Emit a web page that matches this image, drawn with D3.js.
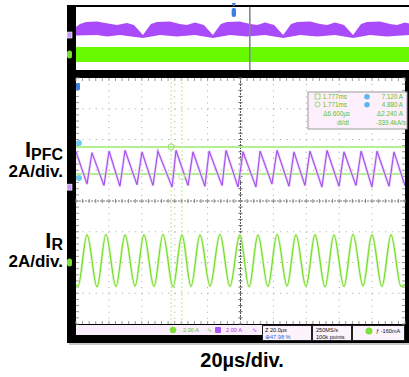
<!DOCTYPE html>
<html>
<head>
<meta charset="utf-8">
<script src="https://cdn.jsdelivr.net/npm/d3@7"></script>
<style>
    html, body { margin: 0; padding: 0; background: #fff; }
    svg { display: block; font-family: "Liberation Sans", Arial, sans-serif; }
</style>
</head>
<body>
<svg id="scope" width="409" height="377"></svg>
<script>
// IPFC trace: triangle vertices (time in µs, current in A)
const ipfcPeakTimes = [0, 9.7, 20.1, 29.8, 40.1, 49.8, 60.8, 71.1, 80.9, 91.2, 101.5, 111.9, 122.2, 132.5, 142.2, 152.6, 162.9, 173.3, 183.0, 193.3];
const ipfcPeakAmps = [2.30, 2.25, 2.35, 2.40, 2.30, 2.35, 2.40, 2.30, 2.35, 2.40, 2.30, 2.35, 2.40, 2.30, 2.35, 2.40, 2.30, 2.35, 2.35, 2.30];
const ipfcValleyTimes = [6.7, 17.0, 26.7, 37.1, 46.8, 58.4, 68.1, 78.4, 88.8, 98.5, 109.4, 119.1, 129.5, 139.2, 149.5, 159.9, 170.2, 179.9, 190.3, 200];
const ipfcValleyAmps = [0.20, 0.10, 0.05, 0.15, 0.10, 0.00, 0.10, 0.05, 0.10, 0.00, 0.00, 0.20, 0.05, 0.10, 0.00, 0.05, 0.10, 0.00, 0.05, 0.10];

// IR trace: peaks and valleys of the resonant current
const irPeakTimes = [6.7, 18.2, 29.8, 41.3, 52.9, 64.4, 75.4, 87.5, 99.6, 110.6, 122.2, 133.7, 145.3, 156.8, 168.4, 179.9, 191.5];
const irPeakAmps = [1.80, 1.82, 1.78, 1.80, 1.82, 1.80, 1.78, 1.82, 1.80, 1.78, 1.82, 1.80, 1.80, 1.78, 1.82, 1.80, 1.80];
const irValleyTimes = [0, 1.2, 12.8, 24.3, 35.9, 47.4, 59.0, 69.9, 81.5, 93.6, 105.2, 116.7, 128.3, 139.8, 151.4, 162.9, 174.5, 186.0, 197.6, 200];
const irValleyAmps = [-1.45, -1.55, -1.58, -1.55, -1.52, -1.55, -1.58, -1.55, -1.52, -1.55, -1.58, -1.55, -1.52, -1.55, -1.58, -1.55, -1.52, -1.55, -1.55, -1.45];

// overview (top) window, x and y in divisions
const ovUpperX = [0, 0.12, 0.30, 0.63, 0.96, 1.23, 1.53, 1.74, 2.01, 2.25, 2.43, 2.82, 3.12, 3.33, 3.57, 3.84, 4.11, 4.35, 4.53, 4.92, 5.23, 5.44, 5.68, 5.95, 6.22, 6.46, 6.64, 7.03, 7.33, 7.54, 7.78, 8.05, 8.32, 8.56, 8.74, 9.13, 9.43, 9.64, 9.88, 10];
const ovUpperY = [1.46, 1.84, 2.10, 2.16, 1.90, 1.71, 1.97, 1.71, 0.44, 1.84, 2.10, 2.16, 1.84, 1.71, 2.03, 1.71, 0.44, 1.84, 2.10, 2.16, 1.84, 1.71, 2.03, 1.71, 0.44, 1.84, 2.10, 2.16, 1.84, 1.71, 2.03, 1.71, 0.44, 1.84, 2.10, 2.16, 1.84, 1.71, 2.03, 1.90];
const ovLowerX = [0, 0.63, 0.93, 1.32, 2.01, 2.52, 3.03, 3.57, 4.11, 4.62, 5.14, 5.68, 6.22, 6.73, 7.24, 7.78, 8.32, 8.83, 9.34, 10];
const ovLowerY = [0.38, 0.44, 0.25, 0.44, 0.06, 0.44, 0.25, 0.44, 0.06, 0.44, 0.25, 0.44, 0.06, 0.44, 0.25, 0.44, 0.06, 0.44, 0.25, 0.44];
const ovGreenBand = [-1.08, -2.98];
const ovZoomPos = 5.22;
const ovTriggerPos = 4.74;

// channel settings
const ampsPerDiv = 2;
const ipfcOffset = 0.45;
const irOffset = -2;

// cursors
const cursorTimes = [57.8, 64.4];
const cursorLevels = [1.76, 0.88];
const readoutRows = [
    ["1.777ms", "a", "7.120 A"],
    ["1.771ms", "b", "4.880 A"],
    ["\u03946.600\u00b5s", "", "\u03942.240 A"],
    ["di/dt", "", "-339.4kA/s"]
];

const timeTicks = d3.range(0, 201, 20);
const divTicks = d3.range(-4, 5, 1);

const svg = d3.select("#scope");
const plot = { left: 76, right: 405, top: 78, bottom: 324 };
const ov = { left: 76, right: 409, top: 7, bottom: 70 };

const x = d3.scaleLinear().domain([0, 200]).range([plot.left, plot.right]);
const y = d3.scaleLinear().domain([-4, 4]).range([plot.bottom, plot.top]);
const xo = d3.scaleLinear().domain([0, 10]).range([ov.left, ov.right]);
const yo = d3.scaleLinear().domain([-4, 4]).range([ov.bottom, ov.top]);

const purple = "#a650ee";
const green = "#72dc24";

// frame
svg.append("rect").attr("x", 69).attr("y", 343).attr("width", 340).attr("height", 2).attr("fill", "#c8c8c8");
svg.append("rect").attr("x", 67).attr("y", 5).attr("width", 342).attr("height", 338).attr("fill", "#000");
svg.append("rect").attr("x", ov.left).attr("y", ov.top).attr("width", ov.right - ov.left).attr("height", ov.bottom - ov.top).attr("fill", "#fff");
svg.append("rect").attr("x", plot.left).attr("y", plot.top).attr("width", plot.right - plot.left).attr("height", plot.bottom - plot.top).attr("fill", "#fff");

// overview window
const ovPoly = ovUpperX.map((v, i) => [xo(v), yo(ovUpperY[i])])
    .concat(ovLowerX.map((v, i) => [xo(v), yo(ovLowerY[i])]).reverse());
svg.append("path")
    .attr("d", d3.line().curve(d3.curveLinearClosed)(ovPoly))
    .attr("fill", "#a94bfb");
svg.append("rect")
    .attr("x", xo(0)).attr("width", xo(10) - xo(0))
    .attr("y", yo(ovGreenBand[0])).attr("height", yo(ovGreenBand[1]) - yo(ovGreenBand[0]))
    .attr("fill", "#66f900");
svg.append("line")
    .attr("x1", xo(ovZoomPos)).attr("x2", xo(ovZoomPos))
    .attr("y1", ov.top).attr("y2", ov.bottom)
    .attr("stroke", "#7d8c8c").attr("stroke-width", 1.6);
const trig = svg.append("g").attr("transform", `translate(${xo(ovTriggerPos)},0)`);
trig.append("path").attr("d", "M-2,3 L2,3 L0,7 Z").attr("fill", "#3b7fe0");
trig.append("rect").attr("x", -2.2).attr("y", 8).attr("width", 4.4).attr("height", 9).attr("rx", 2).attr("fill", "#3b7fe0");
svg.append("rect").attr("x", 67).attr("y", yo(0.44) - 3).attr("width", 5).attr("height", 6).attr("fill", "#c79af7").attr("stroke", "#fff").attr("stroke-width", 0.6);
svg.append("rect").attr("x", 67).attr("y", yo(-2.03) - 4).attr("width", 5).attr("height", 8).attr("rx", 2.5).attr("fill", "#7be033");

// main grid
const grid = svg.append("g");
grid.selectAll(".vgrid")
    .data(timeTicks.filter(t => t > 0 && t < 200 && t !== 100))
    .enter().append("line")
    .attr("x1", d => x(d)).attr("x2", d => x(d))
    .attr("y1", plot.top).attr("y2", plot.bottom)
    .attr("stroke", "#a4a4a4").attr("stroke-width", 1)
    .attr("stroke-dasharray", `1,${(y(0) - y(0.2)) - 1}`);
grid.selectAll(".hgrid")
    .data(divTicks.filter(d => d > -4 && d < 4 && d !== 0))
    .enter().append("line")
    .attr("x1", plot.left).attr("x2", plot.right)
    .attr("y1", d => y(d)).attr("y2", d => y(d))
    .attr("stroke", "#a4a4a4").attr("stroke-width", 1)
    .attr("stroke-dasharray", `1,${(x(4) - x(0)) - 1}`);

const minorT = d3.range(0, 200.01, 4);
const minorD = d3.range(-4, 4.01, 0.2);
grid.append("line")
    .attr("x1", x(100)).attr("x2", x(100)).attr("y1", plot.top).attr("y2", plot.bottom)
    .attr("stroke", "#555").attr("stroke-dasharray", "2,1");
grid.append("line")
    .attr("x1", plot.left).attr("x2", plot.right).attr("y1", y(0)).attr("y2", y(0))
    .attr("stroke", "#777").attr("stroke-dasharray", "2,1");
grid.selectAll(".vtick")
    .data(minorD).enter().append("line")
    .attr("x1", x(100) - 2).attr("x2", x(100) + 2)
    .attr("y1", d => y(d)).attr("y2", d => y(d))
    .attr("stroke", "#666");
grid.selectAll(".htick")
    .data(minorT).enter().append("line")
    .attr("x1", d => x(d)).attr("x2", d => x(d))
    .attr("y1", y(0) - 2).attr("y2", y(0) + 2)
    .attr("stroke", "#888");
grid.selectAll(".edgetick")
    .data(minorT).enter().append("path")
    .attr("d", d => `M${x(d)},${plot.top}v3M${x(d)},${plot.bottom}v-3`)
    .attr("stroke", "#999");
grid.selectAll(".sidetick")
    .data(minorD).enter().append("path")
    .attr("d", d => `M${plot.left},${y(d)}h3M${plot.right},${y(d)}h-3`)
    .attr("stroke", "#999");

// cursors
svg.selectAll(".hcursor")
    .data(cursorLevels).enter().append("line")
    .attr("x1", plot.left).attr("x2", plot.right)
    .attr("y1", d => y(d)).attr("y2", d => y(d))
    .attr("stroke", "#b3f08e").attr("stroke-width", 2);
svg.selectAll(".vcursor")
    .data(cursorTimes).enter().append("line")
    .attr("x1", d => x(d)).attr("x2", d => x(d))
    .attr("y1", plot.top).attr("y2", plot.bottom)
    .attr("stroke", "#b0ef8a").attr("stroke-width", 1)
    .attr("stroke-dasharray", "2,2");

// traces
svg.append("clipPath").attr("id", "plotClip").append("rect")
    .attr("x", plot.left).attr("y", plot.top)
    .attr("width", plot.right - plot.left).attr("height", plot.bottom - plot.top);

const ipfcData = ipfcPeakTimes.map((t, i) => ({ t, a: ipfcPeakAmps[i] }))
    .concat(ipfcValleyTimes.map((t, i) => ({ t, a: ipfcValleyAmps[i] })))
    .sort((a, b) => a.t - b.t);
const irData = irPeakTimes.map((t, i) => ({ t, a: irPeakAmps[i] }))
    .concat(irValleyTimes.map((t, i) => ({ t, a: irValleyAmps[i] })))
    .sort((a, b) => a.t - b.t);

const ipfcLine = d3.line()
    .x(d => x(d.t))
    .y(d => y(ipfcOffset + d.a / ampsPerDiv));
const irLine = d3.line()
    .curve(d3.curveMonotoneX)
    .x(d => x(d.t))
    .y(d => y(irOffset + d.a / ampsPerDiv));

const traces = svg.append("g").attr("clip-path", "url(#plotClip)");
traces.append("path").attr("d", ipfcLine(ipfcData))
    .attr("fill", "none").attr("stroke", "#e6d2f8").attr("stroke-width", 2.6);
traces.append("path").attr("d", ipfcLine(ipfcData))
    .attr("fill", "none").attr("stroke", purple).attr("stroke-width", 1.1);
traces.append("path").attr("d", irLine(irData))
    .attr("fill", "none").attr("stroke", "#d6f6bc").attr("stroke-width", 2.6);
traces.append("path").attr("d", irLine(irData))
    .attr("fill", "none").attr("stroke", green).attr("stroke-width", 1.1);

svg.append("circle").attr("cx", x(cursorTimes[0])).attr("cy", y(cursorLevels[0]))
    .attr("r", 3).attr("fill", "none").attr("stroke", "#8fe35a").attr("stroke-width", 1);
svg.append("circle").attr("cx", x(cursorTimes[1])).attr("cy", y(cursorLevels[1]) + 3)
    .attr("r", 3).attr("fill", "none").attr("stroke", "#c2f0a4").attr("stroke-width", 1);

// channel markers
svg.append("rect").attr("x", plot.left).attr("y", plot.top + 5).attr("width", 4).attr("height", 7).attr("rx", 1).attr("fill", "#3b7fe0");
svg.selectAll(".cmark")
    .data(cursorLevels).enter().append("circle")
    .attr("cx", plot.left + 3)
    .attr("cy", (d, i) => y(d) + (i ? 4 : -4))
    .attr("r", 3).attr("fill", "#6ccaf3");
svg.append("rect").attr("x", 67).attr("y", y(ipfcOffset) - 3).attr("width", 5).attr("height", 6).attr("fill", "#c79af7").attr("stroke", "#fff").attr("stroke-width", 0.6);
svg.append("rect").attr("x", 67).attr("y", y(irOffset) - 4).attr("width", 5).attr("height", 8).attr("rx", 2.5).attr("fill", "#7be033");

// cursor readout
const ro = svg.append("g").attr("font-size", 6.3).attr("fill", "#5cbf2a");
ro.append("rect").attr("x", 308).attr("y", 92).attr("width", 99).attr("height", 37)
    .attr("fill", "#fdf0fc").attr("stroke", "#9a9a9a");
ro.append("rect").attr("x", 315).attr("y", 94).attr("width", 5).attr("height", 5)
    .attr("fill", "none").attr("stroke", "#7fd44a").attr("stroke-width", 0.8);
ro.append("circle").attr("cx", 317.5).attr("cy", 104.5).attr("r", 2.5)
    .attr("fill", "none").attr("stroke", "#7fd44a").attr("stroke-width", 0.8);
const rowY = [99, 107, 116, 125];
readoutRows.forEach((r, i) => {
    ro.append("text").attr("x", i < 2 ? 347 : 350).attr("y", rowY[i])
        .attr("text-anchor", i === 3 ? "middle" : "end")
        .attr("dx", i === 3 ? -7 : 0)
        .text(r[0]);
    if (r[1]) {
        ro.append("circle").attr("cx", 367).attr("cy", rowY[i] - 2.3).attr("r", 2.8).attr("fill", "#5bb8ee");
    }
    ro.append("text").attr("x", i === 3 ? 406 : 403).attr("y", rowY[i])
        .attr("text-anchor", "end").text(r[2]);
});

// status bar
const sb = svg.append("g").attr("font-size", 5.6);
sb.append("rect").attr("x", plot.left).attr("y", 325).attr("width", 186).attr("height", 10).attr("fill", "#fbeefc");
sb.append("circle").attr("cx", 173).attr("cy", 330).attr("r", 3.3).attr("fill", "#7ee03a");
sb.append("text").attr("x", 183).attr("y", 332).attr("fill", "#58c020").text("2.00 A");
sb.append("text").attr("x", 207).attr("y", 332).attr("fill", "#58c020").text("\u223f");
sb.append("rect").attr("x", 215).attr("y", 327).attr("width", 6).attr("height", 6).attr("rx", 1).attr("fill", "#a855f7");
sb.append("text").attr("x", 226).attr("y", 332).attr("fill", "#a040e0").text("2.00 A");
sb.append("text").attr("x", 252).attr("y", 332).attr("fill", "#a040e0").text("\u223f");
[[262, 312], [312, 352], [352, 405]].forEach(b => {
    sb.append("rect").attr("x", b[0] + 0.5).attr("y", 325.5).attr("width", b[1] - b[0] - 1).attr("height", 15)
        .attr("fill", "#fdf3fd").attr("stroke", "#222");
});
sb.append("text").attr("x", 265).attr("y", 332).attr("fill", "#111").text("Z 20.0\u00b5s");
sb.append("text").attr("x", 265).attr("y", 339).attr("fill", "#2a66dd").text("\u229547.98 %");
sb.append("text").attr("x", 316).attr("y", 332).attr("fill", "#111").text("250MS/s");
sb.append("text").attr("x", 316).attr("y", 339).attr("fill", "#111").text("100k points");
sb.append("circle").attr("cx", 369).attr("cy", 331).attr("r", 3.5).attr("fill", "#7ee03a");
sb.append("text").attr("x", 376).attr("y", 333).attr("fill", "#111").text("\u0192 -160mA");

// labels
const lbl = svg.append("g").attr("font-weight", "bold").attr("fill", "#000");
const l1 = lbl.append("text").attr("x", 63).attr("y", 157).attr("text-anchor", "end");
l1.append("tspan").attr("font-size", 22).text("I");
l1.append("tspan").attr("font-size", 16).attr("dy", 3).text("PFC");
lbl.append("text").attr("x", 63).attr("y", 177).attr("text-anchor", "end").attr("font-size", 17).text("2A/div.");
const l2 = lbl.append("text").attr("x", 63).attr("y", 248).attr("text-anchor", "end");
l2.append("tspan").attr("font-size", 22).text("I");
l2.append("tspan").attr("font-size", 16).attr("dy", 2).text("R");
lbl.append("text").attr("x", 63).attr("y", 267).attr("text-anchor", "end").attr("font-size", 17).text("2A/div.");
lbl.append("text").attr("x", 242).attr("y", 367).attr("text-anchor", "middle").attr("font-size", 20).text("20\u00b5s/div.");
</script>
</body>
</html>
